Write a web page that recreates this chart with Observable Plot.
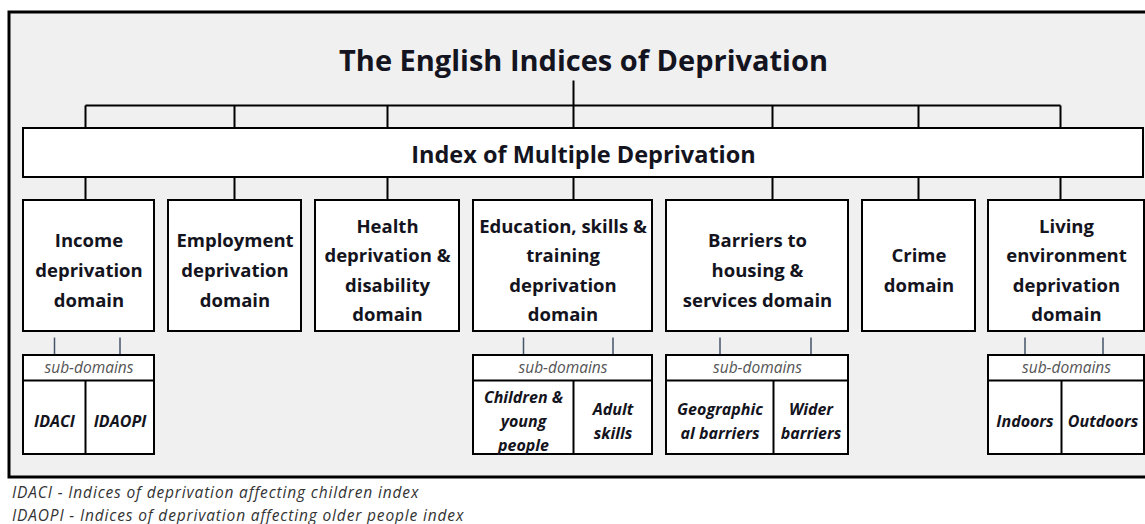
<!DOCTYPE html>
<html>
<head>
<meta charset="utf-8">
<script src="https://cdn.jsdelivr.net/npm/d3@7"></script>
<script src="https://cdn.jsdelivr.net/npm/@observablehq/plot@0.6"></script>
<style>
  html, body { margin: 0; padding: 0; background: #fff; overflow: hidden; }
  #chart svg { display: block; overflow: visible; }
  .caption { font-family: "Open Sans", Lato, sans-serif; font-style: italic; font-size: 15.5px; letter-spacing: 0.85px; color: #333; line-height: 23px; padding-left: 12px; margin-top: 1px; white-space: nowrap; }
</style>
</head>
<body>
<div id="chart"></div>
<div class="caption" id="caption"></div>
<script>
// ---- content ----
const titleText = "The English Indices of Deprivation";
const indexName = "Index of Multiple Deprivation";
const domainNames = [
  "Income\ndeprivation\ndomain",
  "Employment\ndeprivation\ndomain",
  "Health\ndeprivation &\ndisability\ndomain",
  "Education, skills &\ntraining\ndeprivation\ndomain",
  "Barriers to\nhousing &\nservices domain",
  "Crime\ndomain",
  "Living\nenvironment\ndeprivation\ndomain"
];
const subdomainParents = [0, 3, 4, 6];
const subdomainHeader = "sub-domains";
const subdomainNames = [
  ["IDACI", "IDAOPI"],
  ["Children &\nyoung\npeople", "Adult\nskills"],
  ["Geographic\nal barriers", "Wider\nbarriers"],
  ["Indoors", "Outdoors"]
];
const captionLines = [
  "IDACI - Indices of deprivation affecting children index",
  "IDAOPI - Indices of deprivation affecting older people index"
];

// ---- layout (diagram units) ----
const W = 1145, H = 480;
const domainBoxX = [[23,154],[168,301],[315,459],[473,652],[666,848],[862,975],[988,1144]];
const domainLinkX = [85,234,387,573,772,918,1060];
const subDividerX = [85,573,773,1061];

// build tables
const domains = domainNames.map((name, i) => ({name, x1: domainBoxX[i][0], x2: domainBoxX[i][1], lx: domainLinkX[i]}));
const subBoxes = subdomainParents.map((p, g) => ({
  x1: domains[p].x1, x2: domains[p].x2, xd: subDividerX[g], xc: (domains[p].x1 + domains[p].x2) / 2
}));
const subItems = [];
subdomainParents.forEach((p, g) => {
  const b = subBoxes[g];
  subdomainNames[g].forEach((name, k) => {
    const a = k === 0 ? b.x1 : b.xd, z = k === 0 ? b.xd : b.x2;
    subItems.push({name, xc: (a + z) / 2});
  });
});

const ink = "#141420";
const font = "'Open Sans', Lato, sans-serif";

const chart = Plot.plot({
  width: W, height: H, margin: 0,
  x: {domain: [0, W], range: [0, W], axis: null},
  y: {domain: [0, H], range: [0, H], axis: null},
  style: {background: "transparent", fontFamily: font},
  marks: [
    // outer frame
    Plot.rect([0], {x1: () => 9, x2: () => 1152, y1: () => 12, y2: () => 477, fill: "#f0f0f0", stroke: "#000", strokeWidth: 3}),
    // title
    Plot.text([titleText], {x: () => 583, y: () => 61, text: d => d, fontSize: 29, fontWeight: "bold", fill: ink}),
    // title stem and bracket
    Plot.link([0], {x1: () => 573, x2: () => 573, y1: () => 80, y2: () => 105, stroke: "#000", strokeWidth: 2}),
    Plot.link([0], {x1: () => domainLinkX[0], x2: () => domainLinkX[domainLinkX.length - 1], y1: () => 105, y2: () => 105, stroke: "#000", strokeWidth: 2}),
    Plot.link(domains, {x1: "lx", x2: "lx", y1: () => 105, y2: () => 128, stroke: "#000", strokeWidth: 2}),
    // IMD box
    Plot.rect([0], {x1: () => 23, x2: () => 1143, y1: () => 128, y2: () => 177, fill: "#fff", stroke: "#000", strokeWidth: 2}),
    Plot.text([indexName], {x: () => 583, y: () => 155, text: d => d, fontSize: 23.5, fontWeight: "bold", fill: ink}),
    // IMD to domains
    Plot.link(domains, {x1: "lx", x2: "lx", y1: () => 177, y2: () => 200, stroke: "#000", strokeWidth: 2}),
    // domain boxes
    Plot.rect(domains, {x1: "x1", x2: "x2", y1: () => 200, y2: () => 331, fill: "#fff", stroke: "#000", strokeWidth: 2}),
    Plot.text(domains, {x: d => (d.x1 + d.x2) / 2, y: () => 267, text: "name", fontSize: 18.5, fontWeight: "bold", lineHeight: 1.6, fill: ink}),
    // sub-domain connectors
    Plot.link(subItems, {x1: "xc", x2: "xc", y1: () => 337, y2: () => 355, stroke: "#44546a", strokeWidth: 1.5}),
    // sub-domain boxes
    Plot.rect(subBoxes, {x1: "x1", x2: "x2", y1: () => 355, y2: () => 454, fill: "#fff", stroke: "#000", strokeWidth: 2}),
    Plot.link(subBoxes, {x1: "x1", x2: "x2", y1: () => 380, y2: () => 380, stroke: "#000", strokeWidth: 2}),
    Plot.link(subBoxes, {x1: "xd", x2: "xd", y1: () => 380, y2: () => 454, stroke: "#000", strokeWidth: 2}),
    Plot.text(subBoxes, {x: "xc", y: () => 368, text: () => subdomainHeader, fontSize: 15.5, fontStyle: "italic", fill: "#555"}),
    Plot.text(subItems, {x: "xc", y: () => 419, text: "name", fontSize: 16, fontStyle: "italic", fontWeight: "bold", lineHeight: 1.5, fill: ink})
  ]
});
document.getElementById("chart").appendChild(chart);
document.getElementById("caption").innerHTML = captionLines.map(s => `<div>${s}</div>`).join("");
</script>
</body>
</html>
